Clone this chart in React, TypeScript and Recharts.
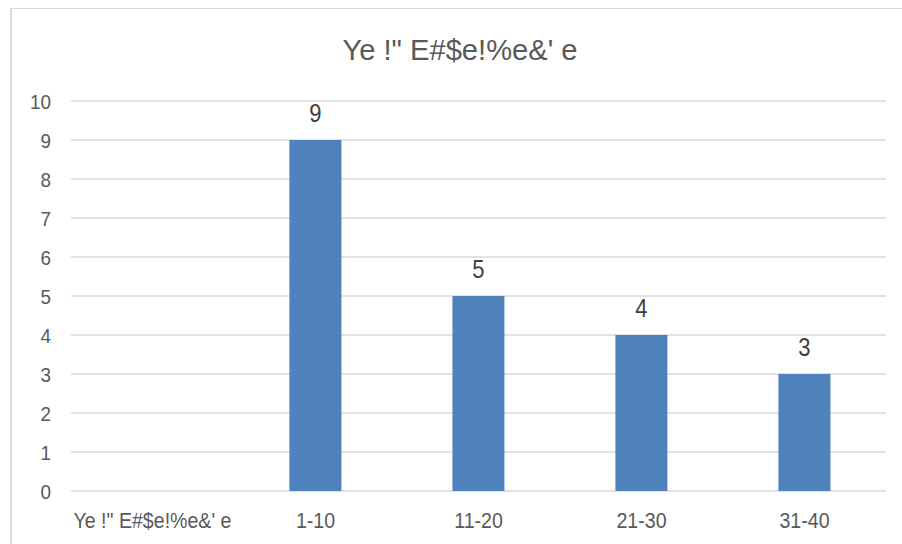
import { Bar, BarChart, CartesianGrid, LabelList, XAxis, YAxis } from "recharts";

const TITLE = "Ye !\" E#$e!%e&' e";
const categories = ["Ye !\" E#$e!%e&' e", "1-10", "11-20", "21-30", "31-40"];
const counts: (number | null)[] = [null, 9, 5, 4, 3];
const yTicks = [0, 1, 2, 3, 4, 5, 6, 7, 8, 9, 10];

const data = categories.map((name, i) => ({ name, count: counts[i] }));

const FONT = "'Liberation Sans', Arial, sans-serif";
const TEXT = "#595959";

function YTick({ x, y, payload }: any) {
  return (
    <text
      transform={`translate(${x},${y}) scale(0.9,1)`}
      textAnchor="end"
      dy="0.36em"
      fontFamily={FONT}
      fontSize={21}
      fill={TEXT}
    >
      {payload.value}
    </text>
  );
}

function XTick({ x, y, payload }: any) {
  return (
    <text
      transform={`translate(${x},${y}) scale(0.89,1)`}
      textAnchor="middle"
      dy="0.71em"
      fontFamily={FONT}
      fontSize={22}
      fill={TEXT}
    >
      {payload.value}
    </text>
  );
}

function ValueLabel({ x, y, width, value }: any) {
  if (value == null) return null;
  return (
    <text
      transform={`translate(${x + width / 2},${y - 18}) scale(0.88,1)`}
      textAnchor="middle"
      fontFamily={FONT}
      fontSize={25}
      fill="#404040"
    >
      {value}
    </text>
  );
}

export default function App() {
  return (
    <div
      style={{
        position: "fixed",
        left: 8,
        top: 8,
        width: 894,
        height: 536,
        overflow: "hidden",
        background: "#fff",
      }}
    >
      {/* frame: only the top and left edges fall inside the page */}
      <div
        style={{
          position: "absolute",
          left: 2,
          top: -1,
          width: 1000,
          height: 1000,
          borderTop: "2px solid #d9d9d9",
          borderLeft: "2px solid #d9d9d9",
          boxSizing: "border-box",
        }}
      />
      <svg width={894} height={80} style={{ position: "absolute", left: 0, top: 0 }}>
        <text
          x={452}
          y={52}
          textAnchor="middle"
          fontFamily={FONT}
          fontSize={29}
          fill={TEXT}
          textLength={235}
          lengthAdjust="spacingAndGlyphs"
        >
          {TITLE}
        </text>
      </svg>
      <div style={{ position: "absolute", left: 0, top: 0 }}>
        <BarChart
          width={894}
          height={536}
          data={data}
          margin={{ top: 93, right: 16, bottom: 0, left: 0 }}
          barCategoryGap="34%"
        >
          <CartesianGrid vertical={false} stroke="#d9d9d9" strokeWidth={1.5} />
          <XAxis
            dataKey="name"
            height={53}
            axisLine={false}
            tickLine={false}
            tickMargin={15}
            tick={<XTick />}
            interval={0}
          />
          <YAxis
            width={63}
            domain={[0, 10]}
            ticks={yTicks}
            axisLine={false}
            tickLine={false}
            tickMargin={14}
            tick={<YTick />}
            interval={0}
          />
          <Bar dataKey="count" fill="#4f81bd" isAnimationActive={false}>
            <LabelList dataKey="count" content={<ValueLabel />} />
          </Bar>
        </BarChart>
      </div>
    </div>
  );
}
